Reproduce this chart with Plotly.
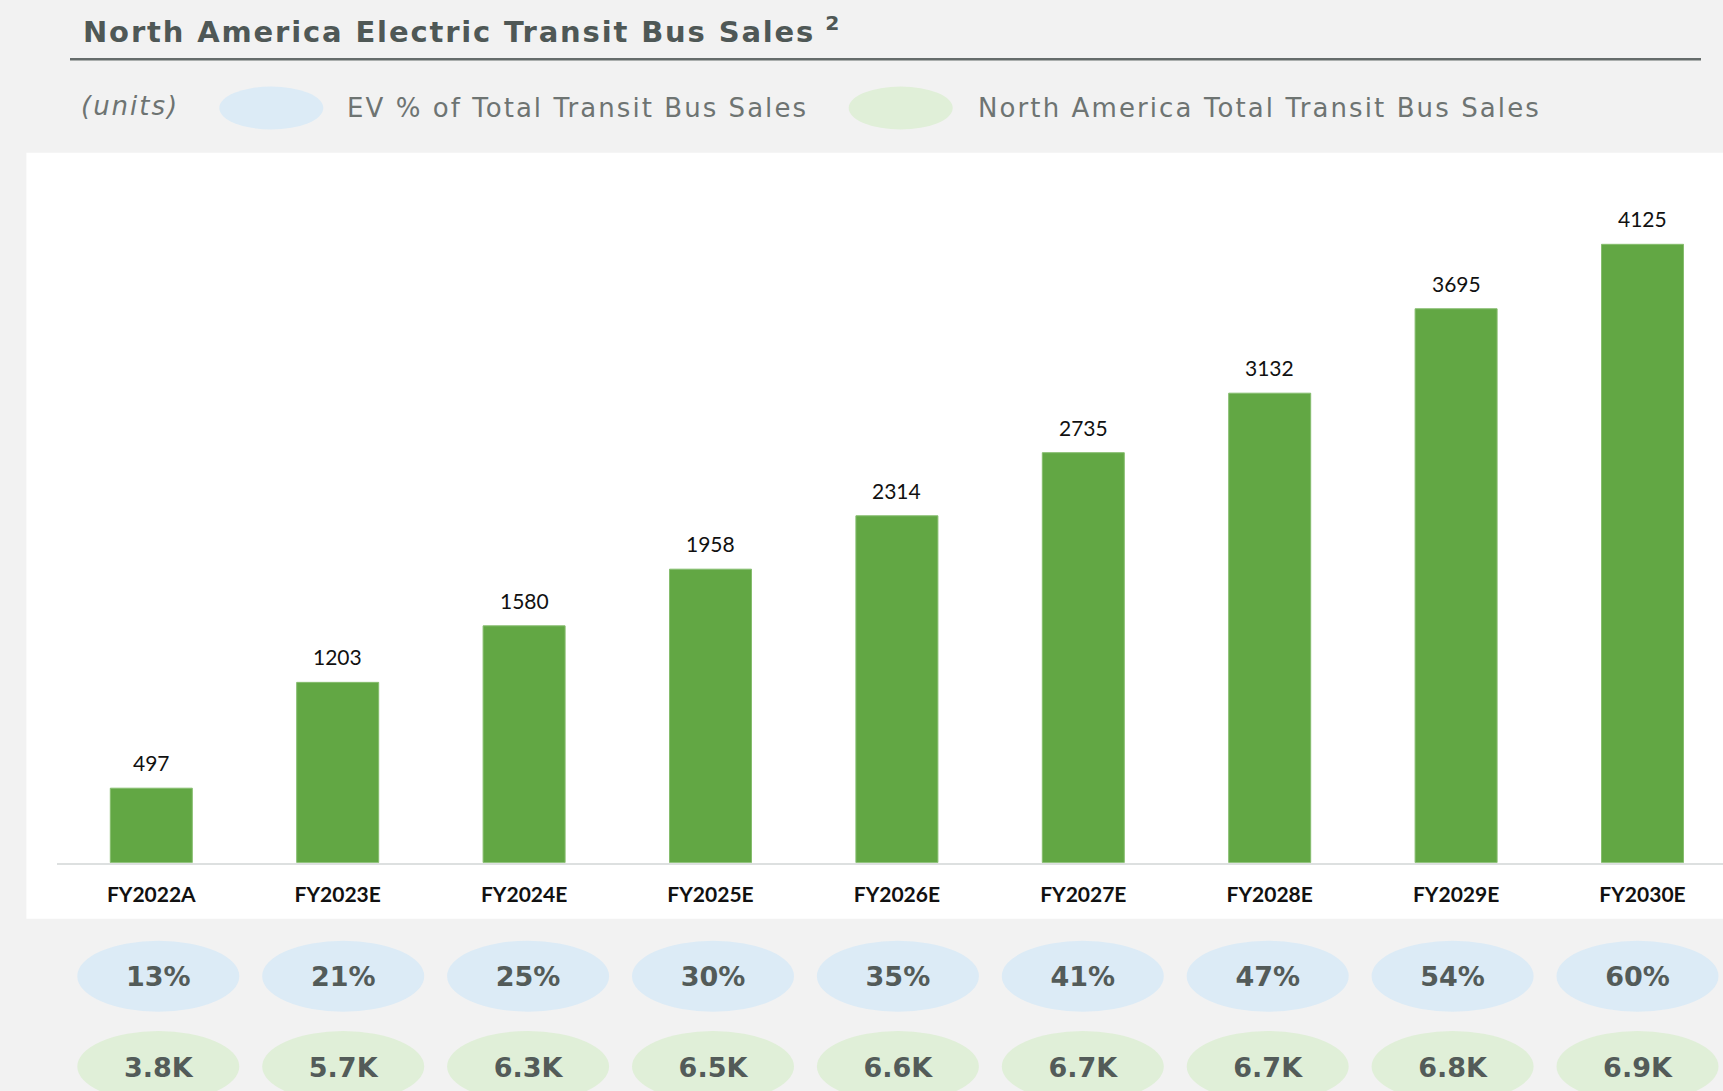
import plotly.graph_objects as go

# ---------------- data ----------------
years = ["FY2022A", "FY2023E", "FY2024E", "FY2025E", "FY2026E",
         "FY2027E", "FY2028E", "FY2029E", "FY2030E"]
ev_bus_sales = [497, 1203, 1580, 1958, 2314, 2735, 3132, 3695, 4125]
ev_share_pct = [13, 21, 25, 30, 35, 41, 47, 54, 60]
total_sales_k = [3.8, 5.7, 6.3, 6.5, 6.6, 6.7, 6.7, 6.8, 6.9]

title_text = "North America Electric Transit Bus Sales"
units_text = "(units)"
legend_ev = "EV % of Total Transit Bus Sales"
legend_total = "North America Total Transit Bus Sales"

# ---------------- layout geometry (pixels) ----------------
W, H = 1723, 1091
bar_left_px = 57.0
baseline_px = 862.7
white_top_px = 152.7
white_bottom_px = 918.7
white_left_px = 26.4
bar_center0_px = 151.3
bar_step_px = 186.4
px_per_unit = 0.14991
bar_width_px = 82.0

ell_center0_px = 158.3
ell_step_px = 184.9
ell_w_px = 162.0
ell_h_px = 71.0
row1_y = 976.2
row2_y = 1066.5
row_text_offset = 3.3

BAR_GREEN = "#62a744"
BLUE_FILL = "#dcebf6"
GREEN_FILL = "#e0efd8"
DARK_TEXT = "#535b59"
LIGHT_TEXT = "#6e7472"
HEAD_FONT = "DejaVu Sans"
CHART_FONT = "Lato"


def px_x(x):
    return x / W


def px_y(y):
    return 1 - y / H


def spaced(text, px):
    return f'<span style="letter-spacing:{px}px">{text}</span>'


# axis ranges derived from pixel geometry
plot_w = W - bar_left_px
x_r0 = -(bar_center0_px - bar_left_px) / bar_step_px
x_r1 = x_r0 + plot_w / bar_step_px
plot_h = baseline_px - white_top_px
y_r1 = plot_h / px_per_unit

x2_r0 = -ell_center0_px / ell_step_px
x2_r1 = x2_r0 + W / ell_step_px

fig = go.Figure()

fig.add_trace(go.Bar(
    x=years, y=ev_bus_sales,
    width=bar_width_px / bar_step_px,
    marker=dict(color=BAR_GREEN, line=dict(color="#86bd6e", width=1)),
    xaxis="x", yaxis="y", showlegend=False, hoverinfo="x+y",
))

# value labels above bars
annotations = []
for yr, v in zip(years, ev_bus_sales):
    annotations.append(dict(
        x=yr, y=v, xref="x", yref="y", text=str(v), showarrow=False,
        xanchor="center", yanchor="bottom", yshift=11,
        font=dict(family=CHART_FONT, size=21, color="#111111"),
    ))

# ellipse rows text
fig.add_trace(go.Scatter(
    x=years, y=[row1_y + row_text_offset] * len(years), mode="text",
    text=[f"{p}%" for p in ev_share_pct],
    textfont=dict(family=HEAD_FONT, size=27, color=DARK_TEXT, weight=700),
    xaxis="x2", yaxis="y2", showlegend=False, hoverinfo="skip", cliponaxis=False,
))
fig.add_trace(go.Scatter(
    x=years, y=[row2_y + row_text_offset] * len(years), mode="text",
    text=[f"{k:.1f}K" for k in total_sales_k],
    textfont=dict(family=HEAD_FONT, size=27, color=DARK_TEXT, weight=700),
    xaxis="x2", yaxis="y2", showlegend=False, hoverinfo="skip", cliponaxis=False,
))

shapes = []
# white chart panel
shapes.append(dict(type="rect", xref="paper", yref="paper",
                   x0=px_x(white_left_px), x1=1, y0=px_y(white_bottom_px), y1=px_y(white_top_px),
                   fillcolor="white", line=dict(width=0), layer="below"))
# header rule
shapes.append(dict(type="line", xref="paper", yref="paper",
                   x0=px_x(70), x1=px_x(1701), y0=px_y(59.3), y1=px_y(59.3),
                   line=dict(color="#656c6b", width=2.5)))
# legend ellipses
for cx, fill in [(271.3, BLUE_FILL), (900.7, GREEN_FILL)]:
    shapes.append(dict(type="circle", xref="paper", yref="paper",
                       x0=px_x(cx - 52), x1=px_x(cx + 52), y0=px_y(129.5), y1=px_y(86.5),
                       fillcolor=fill, line=dict(width=0), layer="below"))
# row ellipses
half_w = ell_w_px / ell_step_px / 2
for i in range(len(years)):
    for cy, fill in [(row1_y, BLUE_FILL), (row2_y, GREEN_FILL)]:
        shapes.append(dict(type="circle", xref="x2", yref="y2",
                           x0=i - half_w, x1=i + half_w,
                           y0=cy - ell_h_px / 2, y1=cy + ell_h_px / 2,
                           fillcolor=fill, line=dict(width=0), layer="below"))

# header texts
annotations.append(dict(
    x=px_x(81), y=px_y(29.5), xref="paper", yref="paper", xanchor="left", yanchor="middle",
    text=spaced(title_text, 1.85) + " <sup>2</sup>", showarrow=False,
    font=dict(family=HEAD_FONT, size=29, color="#4f5856", weight=700),
))
annotations.append(dict(
    x=px_x(79), y=px_y(106), xref="paper", yref="paper", xanchor="left", yanchor="middle",
    text=spaced(units_text, 2), showarrow=False,
    font=dict(family=HEAD_FONT, size=26, color=LIGHT_TEXT, style="italic"),
))
annotations.append(dict(
    x=px_x(345), y=px_y(108), xref="paper", yref="paper", xanchor="left", yanchor="middle",
    text=spaced(legend_ev, 2.05), showarrow=False,
    font=dict(family=HEAD_FONT, size=26, color=LIGHT_TEXT),
))
annotations.append(dict(
    x=px_x(976), y=px_y(108), xref="paper", yref="paper", xanchor="left", yanchor="middle",
    text=spaced(legend_total, 2.1), showarrow=False,
    font=dict(family=HEAD_FONT, size=26, color=LIGHT_TEXT),
))

fig.update_layout(
    width=W, height=H,
    margin=dict(l=0, r=0, t=0, b=0, pad=0),
    paper_bgcolor="#f2f2f2",
    plot_bgcolor="rgba(0,0,0,0)",
    showlegend=False,
    shapes=shapes,
    annotations=annotations,
    xaxis=dict(
        domain=[px_x(bar_left_px), 1], type="category", range=[x_r0, x_r1],
        showgrid=False, zeroline=False, showline=True, linecolor="#dde0e0", linewidth=2,
        ticks="", ticklabelstandoff=12,
        tickfont=dict(family=CHART_FONT, size=21, color="#111111", weight=700),
        fixedrange=True,
    ),
    yaxis=dict(
        domain=[px_y(baseline_px), px_y(white_top_px)], range=[0, y_r1],
        visible=False, showgrid=False, zeroline=False, fixedrange=True,
    ),
    xaxis2=dict(
        domain=[0, 1], type="category", range=[x2_r0, x2_r1], anchor="y2",
        categoryorder="array", categoryarray=years,
        visible=False, showgrid=False, zeroline=False, fixedrange=True,
    ),
    yaxis2=dict(
        domain=[0, 1], range=[H, 0], anchor="x2",
        visible=False, showgrid=False, zeroline=False, fixedrange=True,
    ),
)

fig.write_html("out.html", config={"displayModeBar": False},
               post_script="document.body.style.margin='0px';")
